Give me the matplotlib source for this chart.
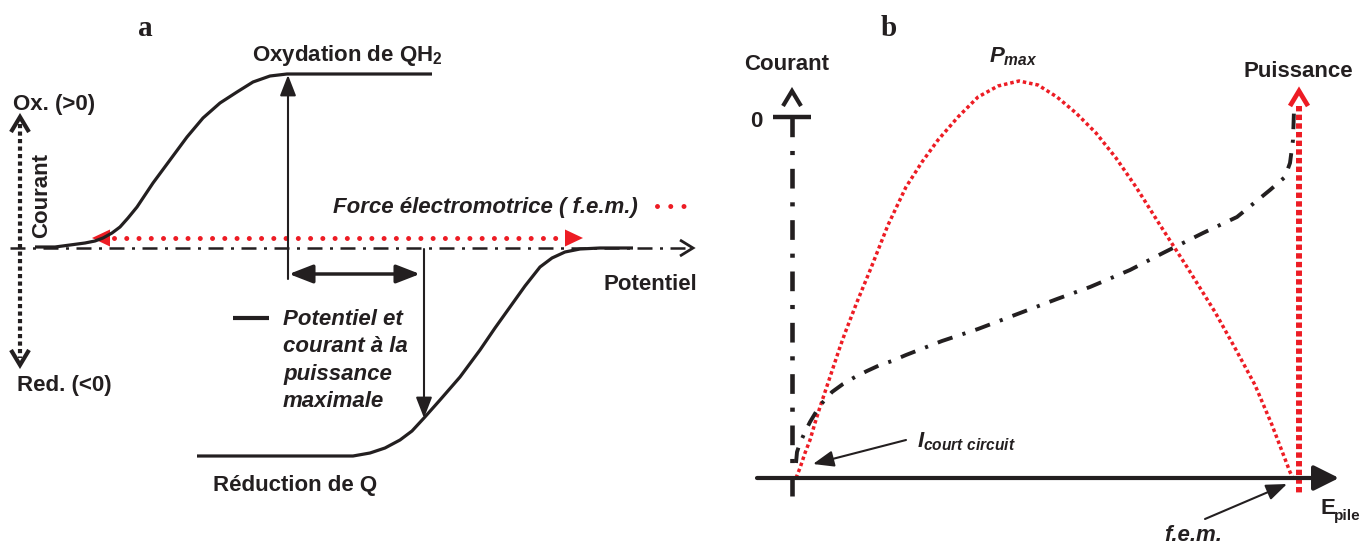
import matplotlib.pyplot as plt

plt.rcParams['font.family'] = ['Liberation Sans', 'DejaVu Sans']
plt.rcParams['mathtext.fontset'] = 'custom'
plt.rcParams['mathtext.rm'] = 'Liberation Sans:bold'
plt.rcParams['mathtext.it'] = 'Liberation Sans:italic:bold'
plt.rcParams['mathtext.bf'] = 'Liberation Sans:bold'

RED = '#ed1c24'
INK = '#231f20'
FS = 16

# --- panel a : courbes de polarisation (pixels, y vers le bas) ---
ox_x = [35, 55, 70, 85, 95, 103, 112, 120, 128, 137, 153, 170, 187, 203, 220, 237, 253, 270, 287, 432]
ox_y = [247, 247, 245, 243, 241, 238, 233, 227, 218, 207, 183, 160, 137, 118, 103, 92, 82, 76, 74, 74]

red_x = [197, 353, 370, 385, 400, 412, 424, 440, 460, 480, 495, 510, 525, 540, 552, 565, 580, 600, 633]
red_y = [456, 456, 453, 448, 440, 431, 418, 400, 377, 350, 328, 307, 286, 267, 258, 252, 249, 248, 248]

axis_a_y = 248
fem_a_y = 238
fem_a_x = [92, 583]
e_pmax_x = 288
i_pmax_x = 424
legend_lines = ['Potentiel et', 'courant à la', 'puissance', 'maximale']

# --- panel b : courant et puissance en fonction de E_pile ---
pw_x = [796, 800, 805, 810, 815, 820, 825, 830, 835, 840, 845, 857, 871, 888, 906, 922, 938,
        958, 978, 998, 1019, 1038, 1057, 1076, 1096, 1116, 1136, 1160, 1187, 1215, 1235,
        1255, 1272, 1290, 1293]
pw_y = [478, 468, 453, 440, 423, 407, 392, 377, 362, 347, 333, 302, 268, 225, 187, 162, 140,
        117, 97, 86, 81, 85, 97, 113, 133, 158, 187, 225, 267, 312, 348,
        385, 425, 472, 478]

cur_x = [796, 797, 800, 805, 810, 816, 823, 832, 843, 855, 867, 880, 892, 906, 942, 978,
         1057, 1090, 1130, 1163, 1203, 1237, 1270, 1285, 1290, 1293, 1294]
cur_y = [463, 452, 443, 432, 422, 412, 402, 392, 384, 377, 371, 365, 361, 355, 341, 329,
         299, 287, 270, 253, 233, 217, 190, 177, 163, 140, 110]

x0_b, y0_b = 792, 478
fem_b_x = 1299


def chevron(ax, x, y, dx, dy, size, spread, color, lw):
    # pointe ouverte en V, dirigée selon (dx, dy)
    bx, by = x - dx * size, y - dy * size
    px, py = -dy * spread, dx * spread
    ax.plot([bx + px, x, bx - px], [by + py, y, by - py], color=color, lw=lw,
            solid_joinstyle='miter', solid_capstyle='butt')


def triangle(ax, x, y, dx, length, half, color):
    ax.fill([x, x - dx * length, x - dx * length], [y, y - half, y + half],
            color=color, lw=0)


def arrow(ax, tail, tip, lw, style='-|>', ms=14):
    ax.annotate('', xy=tip, xytext=tail,
                arrowprops=dict(arrowstyle=style + ',head_length=0.9,head_width=0.35',
                                color=INK, lw=lw, shrinkA=0, shrinkB=0,
                                mutation_scale=ms))


fig = plt.figure(figsize=(13.61, 5.44), dpi=100)
ax = fig.add_axes([0, 0, 1, 1])
ax.set_xlim(0, 1361)
ax.set_ylim(544, 0)
ax.axis('off')

# ---------------- panel a ----------------
ax.text(145, 36, 'a', family='Liberation Serif', fontweight='bold', fontsize=21,
        ha='center', va='baseline', color=INK)

# axe du courant (pointillé vertical)
ax.plot([20, 20], [124, 358], color=INK, lw=3, ls=(0, (1, 0.8)), solid_capstyle='butt')
chevron(ax, 20, 117, 0, -1, 15, 9, INK, 3)
chevron(ax, 20, 365, 0, 1, 15, 9, INK, 3)

# axe du potentiel (trait mixte)
ax.plot([10, 690], [axis_a_y, axis_a_y], color=INK, lw=1.8, ls=(0, (6, 3, 1.2, 3)))
chevron(ax, 693, axis_a_y, 1, 0, 13, 8, INK, 2)

# courbes
ax.plot(ox_x, ox_y, color=INK, lw=2.3, solid_capstyle='butt')
ax.plot(red_x, red_y, color=INK, lw=2.3, solid_capstyle='butt')

# f.e.m. (double flèche pointillée rouge)
ax.plot([fem_a_x[0] + 22, fem_a_x[1] - 18], [fem_a_y, fem_a_y], color=RED, lw=3.6,
        ls=(0, (0.001, 2.45)), dash_capstyle='round')
triangle(ax, fem_a_x[0], fem_a_y, -1, 18, 8.5, RED)
triangle(ax, fem_a_x[1], fem_a_y, 1, 18, 8.5, RED)

# potentiel et courant à la puissance maximale
arrow(ax, (e_pmax_x, 279), (e_pmax_x, 75), 1.5)
arrow(ax, (e_pmax_x + 1, 274), (i_pmax_x - 4, 274), 2.5, style='<|-|>', ms=16)
arrow(ax, (i_pmax_x, 249), (i_pmax_x, 418), 1.5)

ax.plot([233, 269], [318, 318], color=INK, lw=3, solid_capstyle='butt')
for i, line in enumerate(legend_lines):
    ax.text(283, 325 + i * 27.3, line, fontsize=FS, fontweight='bold', style='italic',
            ha='left', va='baseline', color=INK)

ax.text(252, 61, 'Oxydation de QH$_2$', fontsize=FS, fontweight='bold',
        ha='left', va='baseline', color=INK)
ax.text(213, 491, 'Réduction de Q', fontsize=FS, fontweight='bold',
        ha='left', va='baseline', color=INK)
ax.text(13, 110, 'Ox. (>0)', fontsize=FS, fontweight='bold', ha='left', va='baseline', color=INK)
ax.text(17, 391, 'Red. (<0)', fontsize=FS, fontweight='bold', ha='left', va='baseline', color=INK)
ax.text(42, 196, 'Courant', fontsize=FS, fontweight='bold', rotation=90,
        ha='center', va='center', color=INK)
ax.text(697, 290, 'Potentiel', fontsize=FS, fontweight='bold', ha='right', va='baseline', color=INK)
ax.text(333, 213, 'Force électromotrice ( f.e.m.)', fontsize=FS, fontweight='bold',
        style='italic', ha='left', va='baseline', color=INK)
ax.plot([657, 695], [206, 206], color=RED, lw=3.6, ls=(0, (0.001, 2.65)), dash_capstyle='round')

# ---------------- panel b ----------------
ax.text(889, 36, 'b', family='Liberation Serif', fontweight='bold', fontsize=21,
        ha='center', va='baseline', color=INK)

# axe E_pile
ax.annotate('', xy=(1339, y0_b), xytext=(757, y0_b),
            arrowprops=dict(arrowstyle='-|>,head_length=0.9,head_width=0.45', color=INK,
                            lw=3, shrinkA=0, shrinkB=0, mutation_scale=17))

# axe du courant
ax.plot([x0_b, x0_b], [117, 496], color=INK, lw=3.3, ls=(0, (4.3, 3, 0.9, 3)))
ax.plot([773, 811], [117, 117], color=INK, lw=3.2, solid_capstyle='butt')
chevron(ax, x0_b, 91, 0, -1, 15, 9, INK, 3)
ax.text(756, 127, '0', fontsize=FS, fontweight='bold', ha='center', va='baseline', color=INK)
ax.text(787, 70, 'Courant', fontsize=FS, fontweight='bold', ha='center', va='baseline', color=INK)

# axe de la puissance
ax.plot([fem_b_x, fem_b_x], [106, 494], color=RED, lw=4.3, ls=(0, (0.9, 0.55)),
        solid_capstyle='butt')
chevron(ax, fem_b_x, 91, 0, -1, 15, 9, RED, 3.4)
ax.text(1298, 77, 'Puissance', fontsize=FS, fontweight='bold', ha='center', va='baseline',
        color=INK)

# courbes
ax.plot(pw_x, pw_y, color=RED, lw=2.5, ls=(0, (1, 0.85)))
ax.plot(cur_x, cur_y, color=INK, lw=2.8, ls=(0, (4, 2.7, 0.8, 2.7)))

ax.text(989, 62, '$P_{max}$', fontsize=FS, ha='left', va='baseline', color=INK)
ax.text(917, 447, r'$I_{court\ circuit}$', fontsize=FS, ha='left', va='baseline', color=INK)
arrow(ax, (906, 440), (813, 464), 1.5)
ax.text(1193, 541, 'f.e.m.', fontsize=FS, fontweight='bold', style='italic',
        ha='center', va='baseline', color=INK)
arrow(ax, (1205, 519), (1287, 484), 1.5)
ax.text(1321, 514, 'E', fontsize=FS, fontweight='bold', ha='left', va='baseline', color=INK)
ax.text(1334, 520, 'pile', fontsize=11, fontweight='bold', ha='left', va='baseline', color=INK)

fig.savefig('out.png', dpi=100)
